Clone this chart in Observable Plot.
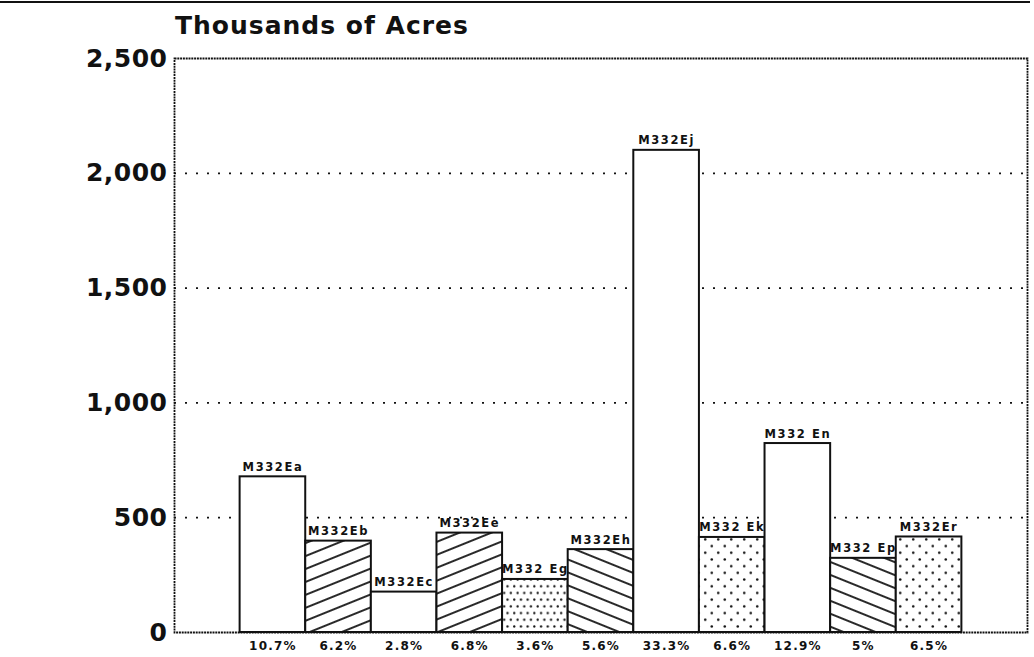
<!DOCTYPE html>
<html>
<head>
<meta charset="utf-8">
<script src="https://cdn.jsdelivr.net/npm/d3@7"></script>
<script src="https://cdn.jsdelivr.net/npm/@observablehq/plot@0.6"></script>
<style>
  html, body { margin: 0; padding: 0; background: #fff; }
  #wrap { position: relative; width: 1034px; height: 657px; overflow: hidden; font-family: "DejaVu Sans", sans-serif; }
  #scanline { position: absolute; left: 0; top: 1px; width: 1030px; height: 2px; background: #111; }
  #title { position: absolute; left: 175px; top: 11px; font-size: 25px; font-weight: bold; letter-spacing: 1px; color: #111; line-height: 30px; }
  #chart { position: absolute; left: 0; top: 0; }
  g[aria-label="y-axis tick label"] text { letter-spacing: 0.5px; }
  g[aria-label="x-axis tick label"] text { letter-spacing: 1.2px; }
  g[aria-label="text"] text { letter-spacing: 1.6px; }
</style>
</head>
<body>
<div id="wrap">
  <div id="chart"></div>
  <div id="scanline"></div>
  <div id="title">Thousands of Acres</div>
</div>
<script>
// Data
const codes  = ["M332Ea", "M332Eb", "M332Ec", "M332Ee", "M332 Eg", "M332Eh", "M332Ej", "M332 Ek", "M332 En", "M332 Ep", "M332Er"];
const acres  = [678, 398, 176, 433, 231, 361, 2100, 414, 823, 323, 416];
const shares = ["10.7%", "6.2%", "2.8%", "6.8%", "3.6%", "5.6%", "33.3%", "6.6%", "12.9%", "5%", "6.5%"];
const yTicks = [0, 500, 1000, 1500, 2000, 2500];

const data = codes.map((code, i) => ({code, acres: acres[i], share: shares[i]}));
const shareOf = new Map(data.map(d => [d.code, d.share]));

const chart = Plot.plot({
  width: 1034,
  height: 657,
  marginLeft: 174,
  marginRight: 7,
  marginTop: 58,
  marginBottom: 25,
  style: {fontFamily: "DejaVu Sans", color: "#111", background: "transparent"},
  x: {domain: codes, paddingInner: 0, paddingOuter: 1, align: 0.5, round: false},
  y: {domain: [0, 2500]},
  color: {
    type: "ordinal",
    domain: codes,
    range: ["#fff", "url(#hatchUp)", "#fff", "url(#hatchUp)", "url(#dotsDense)", "url(#hatchDown)",
            "#fff", "url(#dotsSparse)", "#fff", "url(#hatchDown)", "url(#dotsSparse)"]
  },
  marks: [
    Plot.gridY(yTicks.filter(t => t > 0 && t < 2500), {stroke: "#111", strokeOpacity: 1, strokeWidth: 1.7, strokeDasharray: "2,9"}),
    Plot.frame({stroke: "#111", strokeWidth: 1.8, strokeDasharray: "2,0.8"}),
    Plot.barY(data, {x: "code", y: "acres", fill: "code", stroke: "#111", strokeWidth: 2}),
    Plot.text(data, {x: "code", y: "acres", text: "code", lineAnchor: "bottom", dy: -6,
                     fontSize: 11.5, fontWeight: "bold", fill: "#111"}),
    Plot.axisY({ticks: yTicks, tickFormat: d3.format(","), tickSize: 0, tickPadding: 7,
                fontSize: 25, fontWeight: "bold", label: null}),
    Plot.axisX({tickFormat: c => shareOf.get(c), tickSize: 0, tickPadding: 9,
                fontSize: 12, fontWeight: "bold", label: null})
  ]
});

// Pattern fills
const svg = d3.select(chart);
const defs = svg.insert("defs", ":first-child");
function hatch(id, angle) {
  const p = defs.append("pattern").attr("id", id).attr("patternUnits", "userSpaceOnUse")
    .attr("width", 12).attr("height", 12).attr("patternTransform", `rotate(${angle})`);
  p.append("rect").attr("width", 12).attr("height", 12).attr("fill", "#fff");
  p.append("line").attr("x1", -1).attr("x2", 13).attr("y1", 6).attr("y2", 6)
    .attr("stroke", "#111").attr("stroke-width", 1.8);
}
function dots(id, w, h, r) {
  const p = defs.append("pattern").attr("id", id).attr("patternUnits", "userSpaceOnUse")
    .attr("width", w).attr("height", h);
  p.append("rect").attr("width", w).attr("height", h).attr("fill", "#fff");
  p.append("circle").attr("cx", w / 4).attr("cy", h / 4).attr("r", r).attr("fill", "#111");
  p.append("circle").attr("cx", w * 3 / 4).attr("cy", h * 3 / 4).attr("r", r).attr("fill", "#111");
}
hatch("hatchUp", -22);
hatch("hatchDown", 22);
dots("dotsDense", 6.7, 13.4, 1.15);
dots("dotsSparse", 13, 13.4, 1.3);

document.getElementById("chart").appendChild(chart);
</script>
</body>
</html>
